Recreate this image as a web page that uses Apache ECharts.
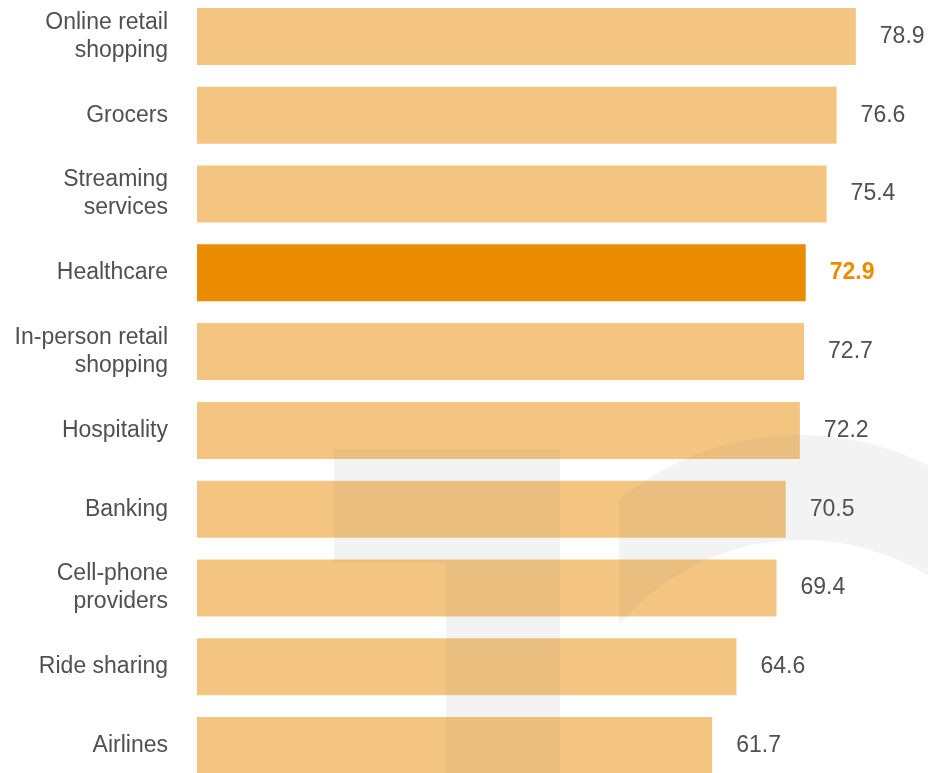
<!DOCTYPE html>
<html>
<head>
<meta charset="utf-8">
<script src="https://cdn.jsdelivr.net/npm/echarts@6/dist/echarts.min.js"></script>
<style>html,body{margin:0;padding:0;background:#fff;}#c{width:928px;height:773px;}</style>
</head>
<body>
<div id="c"></div>
<script>
const categories = ["Online retail\nshopping", "Grocers", "Streaming\nservices", "Healthcare", "In-person retail\nshopping", "Hospitality", "Banking", "Cell-phone\nproviders", "Ride sharing", "Airlines"];
const values = [78.9, 76.6, 75.4, 72.9, 72.7, 72.2, 70.5, 69.4, 64.6, 61.7];
const highlight = "Healthcare";

const light = "#F4C580", dark = "#EB8C00", textColor = "#505050";
const font = "'Liberation Sans', Arial, sans-serif";

const chart = echarts.init(document.getElementById('c'), null, {renderer: 'canvas'});
const data = values.map((v, i) => {
  const hl = categories[i] === highlight;
  return {
    value: v,
    itemStyle: {color: hl ? dark : light},
    label: hl ? {color: dark, fontWeight: 'bold'} : {}
  };
});

// watermark arc outline (decorative background shape)
function arcPts(cx, cy, r, x0, x1, n) {
  const pts = [];
  for (let k = 0; k <= n; k++) {
    const x = x0 + (x1 - x0) * k / n;
    const dx = x - cx;
    pts.push([x, cy - Math.sqrt(Math.max(0, r * r - dx * dx))]);
  }
  return pts;
}
const outer = arcPts(800, 719.5, 284.5, 619, 928, 60);
const inner = arcPts(802, 779.5, 239.5, 619, 928, 60).reverse();
const arcShape = outer.concat(inner);

const wm = 'rgba(120,120,120,0.09)';
chart.setOption({
  animation: false,
  backgroundColor: '#fff',
  grid: {left: 197, right: 4.55, top: -2.9, bottom: -11.9, containLabel: false, outerBoundsMode: 'none'},
  xAxis: {type: 'value', min: 0, max: 87, show: false},
  yAxis: {
    type: 'category', data: categories, inverse: true,
    axisLine: {show: false}, axisTick: {show: false},
    axisLabel: {color: textColor, fontSize: 23, fontFamily: font, margin: 29, lineHeight: 28, align: 'right'}
  },
  series: [{
    type: 'bar', data: data, barWidth: 57,
    label: {show: true, position: 'right', distance: 24, color: textColor, fontSize: 23, fontFamily: font,
      formatter: p => p.value.toFixed(1)}
  }],
  graphic: [
    {type: 'polygon', z: 100, silent: true,
     shape: {points: [[334,449],[560,449],[560,773],[446,773],[446,563],[334,563]]},
     style: {fill: wm}},
    {type: 'polygon', z: 100, silent: true,
     shape: {points: arcShape},
     style: {fill: wm}}
  ]
});
</script>
</body>
</html>
